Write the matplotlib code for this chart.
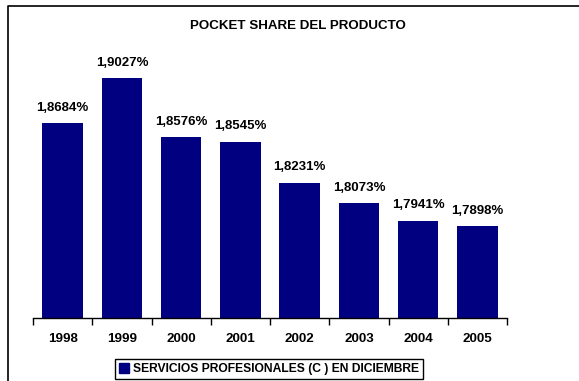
import matplotlib.pyplot as plt
from matplotlib.lines import Line2D
from matplotlib.patches import Patch

years = ["1998", "1999", "2000", "2001", "2002", "2003", "2004", "2005"]
shares = [1.8684, 1.9027, 1.8576, 1.8545, 1.8231, 1.8073, 1.7941, 1.7898]
labels = ["1,8684%", "1,9027%", "1,8576%", "1,8545%", "1,8231%", "1,8073%", "1,7941%", "1,7898%"]

plt.rcParams['font.family'] = ['Liberation Sans', 'DejaVu Sans']
plt.rcParams['font.weight'] = 'bold'

fig = plt.figure(figsize=(5.79, 3.81), dpi=100)
ax = fig.add_axes([0.057, 0.1654, 0.8187, 0.73])

x = list(range(len(years)))
ax.bar(x, shares, width=0.68, color="#000080")
for xi, v, lab in zip(x, shares, labels):
    ax.annotate(lab, (xi, v), xytext=(0, 7), textcoords="offset points",
                ha="center", va="bottom", fontsize=9.5, fontweight="bold")

ax.set_xlim(-0.5, len(years) - 0.5)
ax.set_ylim(1.72, 1.932)
ax.set_xticks(x)
ax.set_xticklabels(years, fontsize=9.6, fontweight="bold")
ax.set_xticks([i - 0.5 for i in range(len(years) + 1)], minor=True)
ax.tick_params(axis="x", which="major", length=0, pad=11)
ax.tick_params(axis="x", which="minor", length=5, width=1, direction="out")
ax.set_yticks([])
for s in ["top", "right", "left"]:
    ax.spines[s].set_visible(False)
ax.spines["bottom"].set_linewidth(1)

fig.text(298 / 579, 1 - 26 / 381, "POCKET SHARE DEL PRODUCTO", ha="center", va="center",
         fontsize=9.6, fontweight="bold")

# outer chart frame (only left and top edges inside the crop)
fig.add_artist(Line2D([8 / 579, 8 / 579, 1.0], [0.0, 1 - 6 / 381, 1 - 6 / 381],
                      transform=fig.transFigure, color="black", linewidth=1.2))

handle = Patch(facecolor="#000080", edgecolor="#000080")
leg = fig.legend([handle], ["SERVICIOS PROFESIONALES (C ) EN DICIEMBRE"],
                 loc="upper center", bbox_to_anchor=(269 / 579, 1 - 359 / 381),
                 fancybox=False, edgecolor="black", framealpha=1,
                 prop={"size": 8.7, "weight": "bold"}, handlelength=0.8, handleheight=0.8,
                 handletextpad=0.3, borderpad=0.35, borderaxespad=0)
leg.get_frame().set_linewidth(1)

fig.savefig("out.png", dpi=100)
